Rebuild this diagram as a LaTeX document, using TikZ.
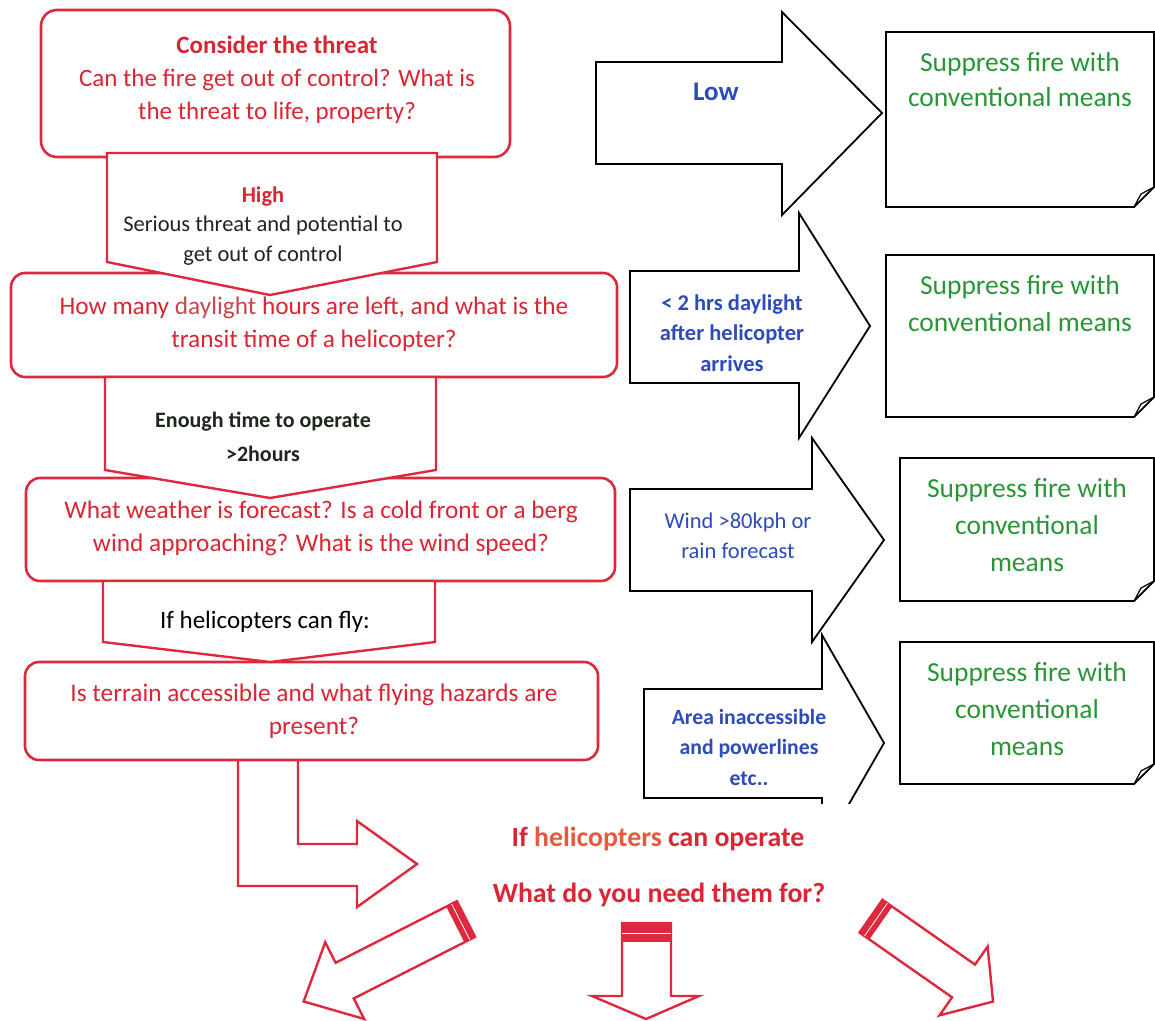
\documentclass[tikz,border=0pt]{standalone}
\usepackage{fontspec}
\setmainfont{Carlito}
\definecolor{bred}{RGB}{222,40,62}
\definecolor{tred}{RGB}{218,38,52}
\definecolor{tblue}{RGB}{45,75,185}
\definecolor{tgreen}{RGB}{40,150,55}
\definecolor{tdark}{RGB}{30,38,30}
\definecolor{tday}{RGB}{198,72,78}
\definecolor{theli}{RGB}{228,90,60}
\begin{document}
\begin{tikzpicture}[x=1pt,y=-1pt,
  redbox/.style={draw=bred, line width=2.6pt, rounded corners=16pt, fill=white, inner sep=0pt},
  redarrow/.style={draw=bred, line width=2.4pt, fill=white, line join=miter},
  blkarrow/.style={draw=black, line width=1.8pt, fill=white, line join=miter},
  greenbox/.style={draw=black, line width=1.8pt, fill=white},
  txt/.style={align=center, inner sep=0pt},
  redtxt/.style={txt, text=tred, font=\fontsize{25.3}{33}\selectfont},
  bluetxt/.style={txt, text=tblue, font=\fontsize{22.5}{30.5}\selectfont},
  greentxt/.style={txt, text=tgreen, font=\fontsize{27.5}{37}\selectfont}]
\useasboundingbox (0,0) rectangle (1155,1020);
% left red boxes
\node[redbox, minimum width=469pt, minimum height=147pt] (b1) at (275.5,83.5) {};
\node[redbox, minimum width=606pt, minimum height=104pt, rounded corners=14pt] (b2) at (314,325) {};
\node[redbox, minimum width=589pt, minimum height=103pt, rounded corners=14pt] (b3) at (320.5,529.5) {};
\node[redbox, minimum width=573pt, minimum height=98pt, rounded corners=14pt] (b4) at (311.5,711) {};
% down arrows
\draw[redarrow] (107,153) -- (437,153) -- (437,262) -- (270,295) -- (107,262) -- cycle;
\draw[redarrow] (105,377) -- (436,377) -- (436,470) -- (270,498) -- (105,470) -- cycle;
\draw[redarrow] (103,581) -- (435,581) -- (435,642) -- (270,662) -- (103,642) -- cycle;
% bent arrow
\draw[bred, line width=2.4pt, line join=miter] (238,760) -- (238,886) -- (357,886) -- (357,907) -- (417,864) -- (357,821) -- (357,844) -- (298,844) -- (298,760);
% texts left column
\node[txt, text=tred, font=\fontsize{25}{33}\selectfont] (t1) at (277,80) {\textbf{Consider the threat}\\Can the fire get out of control? What is\\the threat to life, property?};
\node[txt, text=tdark, font=\fontsize{22.5}{29.5}\selectfont] (ta) at (263,226) {\textcolor{tred}{\textbf{High}}\\Serious threat and potential to\\get out of control};
\node[redtxt] (t2) at (314,324) {How many \textcolor{tday}{daylight} hours are left, and what is the\\transit time of a helicopter?};
\node[txt, text=tdark, font=\fontsize{22}{34}\bfseries] (tb) at (263,437) {Enough time to operate\\>2hours};
\node[redtxt] (t3) at (321,528) {What weather is forecast? Is a cold front or a berg\\wind approaching? What is the wind speed?};
\node[txt, text=black, font=\fontsize{25}{28}\selectfont] (tc) at (265,622) {If helicopters can fly:};
\node[redtxt] (t4) at (314,711) {Is terrain accessible and what flying hazards are\\present?};
% right black arrows
\draw[blkarrow] (596,62) -- (782,62) -- (782,12) -- (882,113) -- (782,215) -- (782,164) -- (596,164) -- cycle;
\draw[blkarrow] (630,271) -- (799,271) -- (799,213) -- (870,326) -- (799,438) -- (799,383) -- (630,383) -- cycle;
\draw[blkarrow] (630,489) -- (812,489) -- (812,438) -- (884,540) -- (812,642) -- (812,591) -- (630,591) -- cycle;
\begin{scope}
\clip (560,600) rectangle (900,803);
\draw[blkarrow] (644,689) -- (822,689) -- (822,635) -- (884,743) -- (822,851) -- (822,798) -- (644,798) -- cycle;
\end{scope}
\node[txt, text=tblue, font=\fontsize{27}{30}\bfseries] (tlow) at (716,92) {Low};
\node[bluetxt, font=\fontsize{22.5}{30.5}\bfseries] (tr2) at (732,333) {< 2 hrs daylight\\after helicopter\\arrives};
\node[bluetxt] (tr3) at (738,536) {Wind >80kph or\\rain forecast};
\node[bluetxt, font=\fontsize{21.7}{30.5}\bfseries] (tr4) at (749,747) {Area inaccessible\\and powerlines\\etc..};
% green boxes with folded corner
\draw[greenbox] (886,32) -- (1154,32) -- (1154,187) -- (1134,207) -- (886,207) -- cycle;
\draw[line width=1.2pt, line join=round] (1154,187) -- (1141,194) -- (1134,207);
\draw[greenbox] (886,255) -- (1154,255) -- (1154,397) -- (1134,417) -- (886,417) -- cycle;
\draw[line width=1.2pt, line join=round] (1154,397) -- (1141,404) -- (1134,417);
\draw[greenbox] (900,458) -- (1154,458) -- (1154,581) -- (1134,601) -- (900,601) -- cycle;
\draw[line width=1.2pt, line join=round] (1154,581) -- (1141,588) -- (1134,601);
\draw[greenbox] (900,642) -- (1154,642) -- (1154,764) -- (1134,784) -- (900,784) -- cycle;
\draw[line width=1.2pt, line join=round] (1154,764) -- (1141,771) -- (1134,784);
\node[greentxt, font=\fontsize{27.5}{35}\selectfont] (g1) at (1020,80) {Suppress fire with\\conventional means};
\node[greentxt] (g2) at (1020,304) {Suppress fire with\\conventional means};
\node[greentxt] (g3) at (1027,525) {Suppress fire with\\conventional\\means};
\node[greentxt] (g4) at (1027,709) {Suppress fire with\\conventional\\means};
% bottom texts
\node[txt, text=tred, font=\fontsize{27.8}{30}\bfseries] (q1) at (658,839) {If \textcolor{theli}{helicopters} can operate};
\node[txt, text=tred, font=\fontsize{27.8}{30}\bfseries] (q2) at (659,895) {What do you need them for?};
% bottom centre arrow
\draw[redarrow] (622,923) -- (622,996) -- (592,996) -- (646,1019) -- (699,996) -- (671,996) -- (671,923) -- cycle;
\fill[bred] (622,923) rectangle (671,942);
\draw[white, line width=0.8pt] (622,933) -- (671,933);
% bottom left arrow
\begin{scope}[shift={(466,919)}, x={(-0.892pt,-0.453pt)}, y={(0.453pt,-0.892pt)}]
\draw[redarrow] (0,-20) -- (136,-20) -- (136,-43) -- (182,0) -- (136,43) -- (136,20) -- (0,20) -- cycle;
\fill[bred] (0,-20) -- (12,-20) -- (12,20) -- (0,20) -- cycle;
\draw[white, line width=0.8pt] (6,-20) -- (6,20);
\end{scope}
% bottom right arrow
\begin{scope}[shift={(871,916.2)}, x={(0.819pt,-0.573pt)}, y={(-0.573pt,-0.819pt)}]
\draw[redarrow] (0,-20) -- (113,-20) -- (113,-42) -- (149,0) -- (113,42) -- (113,20) -- (0,20) -- cycle;
\fill[bred] (0,-20) -- (12,-20) -- (12,20) -- (0,20) -- cycle;
\draw[white, line width=0.8pt] (6,-20) -- (6,20);
\end{scope}
\end{tikzpicture}
\end{document}
